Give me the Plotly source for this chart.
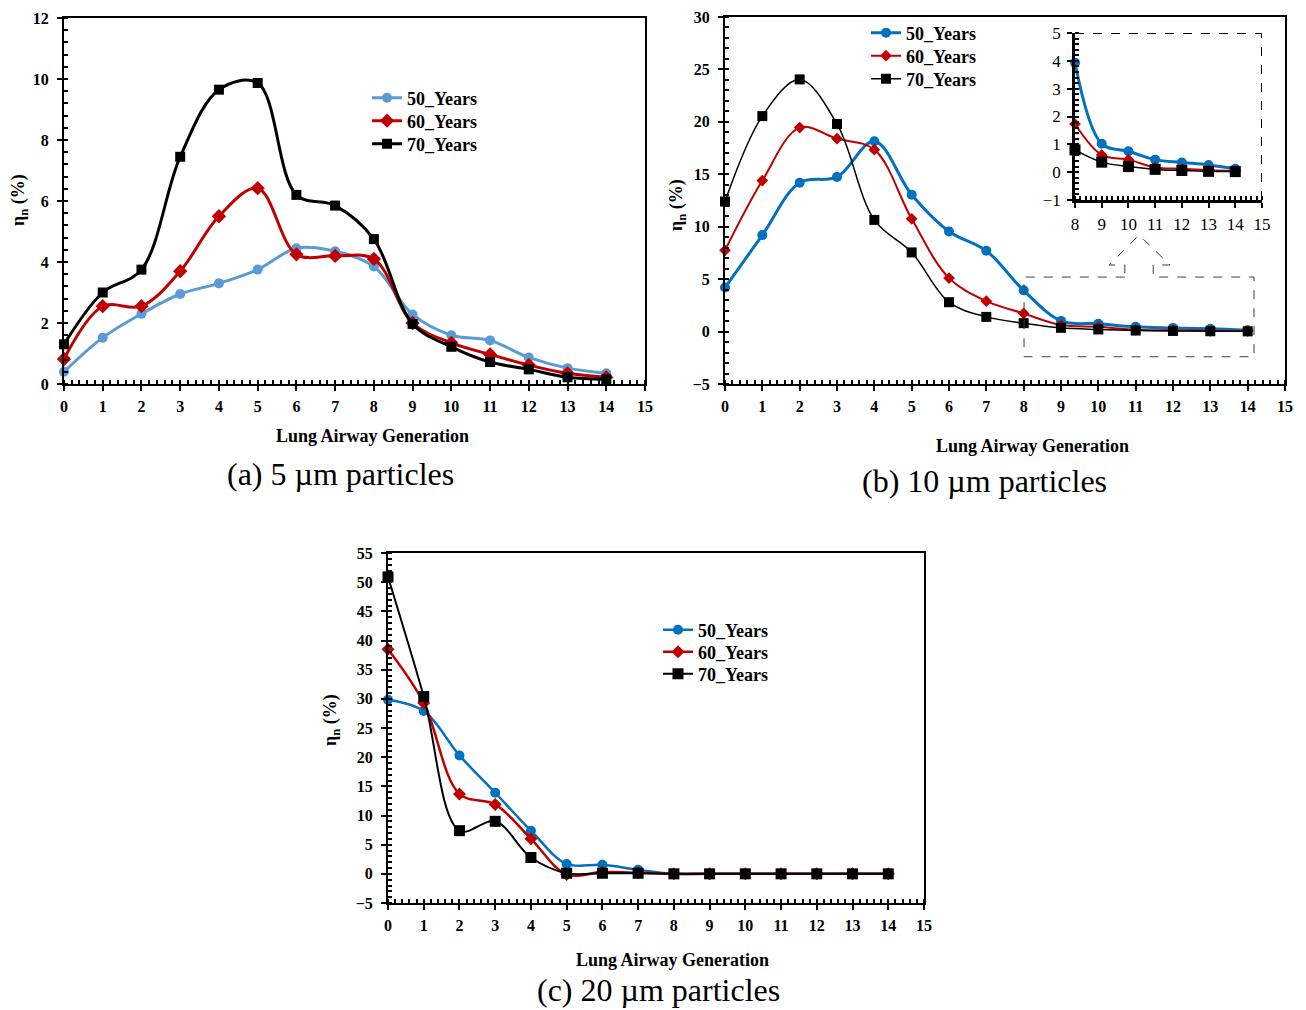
import plotly.graph_objects as go

# The page places the figure 8px from the window's top-left corner (body margin),
# so the figure is made 8px smaller in each direction and positions are shifted.
OFF = 8
W, H = 1306 - OFF, 1010 - OFF

gen = list(range(15))
series_names = ["50_Years", "60_Years", "70_Years"]

# (a) 5 um particles
a_50 = [0.40, 1.52, 2.30, 2.95, 3.30, 3.75, 4.45, 4.35, 3.85, 2.28, 1.60, 1.43, 0.87, 0.52, 0.35]
a_60 = [0.82, 2.55, 2.55, 3.70, 5.50, 6.42, 4.25, 4.20, 4.10, 2.00, 1.35, 0.97, 0.62, 0.35, 0.22]
a_70 = [1.30, 3.00, 3.75, 7.45, 9.65, 9.87, 6.20, 5.85, 4.75, 1.97, 1.22, 0.72, 0.48, 0.22, 0.15]

# (b) 10 um particles
b_50 = [4.20, 9.20, 14.20, 14.75, 18.15, 13.05, 9.55, 7.70, 3.93, 1.02, 0.75, 0.45, 0.35, 0.26, 0.12]
b_60 = [7.75, 14.40, 19.45, 18.40, 17.35, 10.75, 5.10, 2.90, 1.73, 0.62, 0.45, 0.17, 0.12, 0.07, 0.05]
b_70 = [12.40, 20.55, 24.05, 19.80, 10.65, 7.55, 2.80, 1.40, 0.80, 0.36, 0.20, 0.10, 0.06, 0.03, 0.02]

# (c) 20 um particles
c_50 = [29.85, 27.90, 20.30, 13.90, 7.40, 1.70, 1.55, 0.70, 0.0, 0.0, 0.0, 0.0, 0.0, 0.0, 0.0]
c_60 = [38.50, 29.30, 13.70, 11.90, 6.00, -0.10, 0.30, 0.20, 0.0, 0.0, 0.0, 0.0, 0.0, 0.0, 0.0]
c_70 = [50.90, 30.40, 7.40, 9.00, 2.80, 0.10, 0.10, 0.10, 0.0, 0.0, 0.0, 0.0, 0.0, 0.0, 0.0]

x_ticks = list(range(16))
captions = ["(a) 5 µm particles", "(b) 10 µm particles", "(c) 20 µm particles"]
x_title = "Lung Airway Generation"
y_title = "η<sub>n</sub> (%)"

SERIF = "Liberation Serif, Times New Roman, serif"
BLUE_A = "#5B9BD5"
BLUE = "#0070C0"
RED = "#C00000"
BLACK = "#000000"


def px(xp):
    return (xp - OFF) / W


def py(yp):
    return 1 - (yp - OFF) / H


fig = go.Figure()


def add_series(x, y, name, color, symbol, msize, lw, xa, ya, legend, show=True):
    fig.add_trace(go.Scatter(
        x=x, y=y, name=name, mode="lines+markers",
        line=dict(color=color, width=lw, shape="spline", smoothing=1.0),
        marker=dict(color=color, symbol=symbol, size=msize, line=dict(width=0)),
        xaxis=xa, yaxis=ya, legend=legend, showlegend=show, cliponaxis=False,
    ))


# panel a
add_series(gen, a_50, series_names[0], BLUE_A, "circle", 10, 3, "x", "y", "legend")
add_series(gen, a_60, series_names[1], RED, "diamond", 11, 3, "x", "y", "legend2")
add_series(gen, a_70, series_names[2], BLACK, "square", 10, 3, "x", "y", "legend3")
# panel b
add_series(gen, b_50, series_names[0], BLUE, "circle", 10, 3, "x2", "y2", "legend4")
add_series(gen, b_60, series_names[1], RED, "diamond", 9, 2, "x2", "y2", "legend5")
add_series(gen, b_70, series_names[2], BLACK, "square", 10, 1.5, "x2", "y2", "legend6")
# panel c
add_series(gen, c_50, series_names[0], BLUE, "circle", 10, 2.5, "x3", "y3", "legend7")
add_series(gen, c_60, series_names[1], RED, "diamond", 10, 2.5, "x3", "y3", "legend8")
add_series(gen, c_70, series_names[2], BLACK, "square", 11, 2, "x3", "y3", "legend9")
# inset of b (generations 8-14)
add_series(gen[8:], b_50[8:], series_names[0], BLUE, "circle", 10, 3, "x4", "y4", "legend4", False)
add_series(gen[8:], b_60[8:], series_names[1], RED, "diamond", 9, 2, "x4", "y4", "legend5", False)
add_series(gen[8:], b_70[8:], series_names[2], BLACK, "square", 11, 1.5, "x4", "y4", "legend6", False)

tickfont_b = dict(family=SERIF, size=16, color="black", weight="bold")


def axis_common(domain, rng, dtick, minor_dtick, anchor, font=tickfont_b, mirror=True, lw=2, standoff=0):
    return dict(
        domain=domain, range=rng, dtick=dtick, tick0=0, showgrid=False, zeroline=False,
        showline=True, linecolor="black", linewidth=lw, mirror=mirror, anchor=anchor,
        ticks="outside", ticklen=5, tickwidth=2, tickcolor="black", automargin=False,
        ticklabelstandoff=standoff,
        minor=dict(ticks="inside", ticklen=4, tickwidth=1.5, tickcolor="black", dtick=minor_dtick, tick0=0),
        tickfont=font, fixedrange=True,
    )


inset_font = dict(family=SERIF, size=17, color="black")
fig.update_layout(
    template="none",
    width=W, height=H, margin=dict(l=0, r=0, t=0, b=0, pad=0), autosize=False,
    paper_bgcolor="white", plot_bgcolor="white",
    font=dict(family=SERIF, color="black"),
    xaxis=axis_common([px(64), px(645)], [0, 15], 1, 0.2, "y", standoff=2),
    yaxis=axis_common([py(384), py(18)], [0, 12], 2, 0.4, "x", standoff=5),
    xaxis2=axis_common([px(725), px(1285)], [0, 15], 1, 0.2, "y2", standoff=2),
    yaxis2=axis_common([py(384), py(17)], [-5, 30], 5, 1, "x2", standoff=5),
    xaxis3=axis_common([px(388), px(924)], [0, 15], 1, 0.2, "y3", standoff=2),
    yaxis3=axis_common([py(903), py(553)], [-5, 55], 5, 1, "x3", standoff=5),
    xaxis4=axis_common([px(1075), px(1262)], [8, 15], 1, 0.2, "y4", font=inset_font, mirror=False, lw=2.5,
                       standoff=2),
    yaxis4=axis_common([py(200), py(33)], [-1, 5], 1, 0.2, "x4", font=inset_font, mirror=False, lw=2.5,
                       standoff=3),
)
for ax in ["xaxis", "xaxis2", "xaxis3", "xaxis4"]:
    lo = fig.layout[ax].range[0]
    fig.layout[ax].tickvals = [v for v in x_ticks if v >= lo]
    fig.layout[ax].ticktext = [str(v) for v in x_ticks if v >= lo]

legend_font = dict(family=SERIF, size=18, color="black", weight="bold")


def legend_at(xp, row_center):
    return dict(x=px(xp), y=py(row_center - 19.5), xanchor="left", yanchor="top", font=legend_font,
                bgcolor="rgba(0,0,0,0)", borderwidth=0, itemwidth=30, tracegroupgap=0,
                itemclick=False, itemdoubleclick=False)


legend_rows = {
    "legend": (367, 99), "legend2": (367, 122), "legend3": (367, 145),
    "legend4": (866, 34), "legend5": (866, 57), "legend6": (866, 80),
    "legend7": (658, 631), "legend8": (658, 653), "legend9": (658, 675),
}
fig.update_layout(**{k: legend_at(*v) for k, v in legend_rows.items()})

# Inset dashed border (top and right)
fig.add_shape(type="line", xref="x4", yref="y4", x0=8, y0=5, x1=15, y1=5,
              line=dict(color="black", width=2, dash="dash"))
fig.add_shape(type="line", xref="x4", yref="y4", x0=15, y0=-1, x1=15, y1=5,
              line=dict(color="black", width=2, dash="dash"))

# Zoom-region box with arrow in panel (b)
fig.add_shape(type="path", xref="x2", yref="y2",
              path="M 10.71,5.2 L 8.01,5.2 L 8.01,-2.4 L 14.17,-2.4 L 14.17,5.2 L 11.47,5.2 "
                   "L 11.47,6.35 L 11.92,6.35 L 11.09,9.2 L 10.29,6.35 L 10.71,6.35 Z",
              line=dict(color="#404040", width=1, dash="dash"))

ann = []
title_font = dict(family=SERIF, size=18, color="black", weight="bold")
ytitle_font = dict(family=SERIF, size=18, color="black", weight="bold")
cap_font = dict(family=SERIF, size=32, color="black")
for (xt, yt, xc, yc, xy, yy, cap) in [
    (372, 436, 340, 474, 20, 200, captions[0]),
    (1032, 446, 985, 481, 678, 205, captions[1]),
    (672, 960, 658, 990, 331, 720, captions[2]),
]:
    ann.append(dict(text=x_title, x=px(xt), y=py(yt), xref="paper", yref="paper",
                    xanchor="center", yanchor="middle", showarrow=False, font=title_font))
    ann.append(dict(text=cap, x=px(xc), y=py(yc), xref="paper", yref="paper",
                    xanchor="center", yanchor="middle", showarrow=False, font=cap_font))
    ann.append(dict(text=y_title, x=px(xy), y=py(yy), xref="paper", yref="paper",
                    xanchor="center", yanchor="middle", showarrow=False, textangle=-90,
                    font=ytitle_font))
fig.update_layout(annotations=ann)

fig.write_html("out.html")
